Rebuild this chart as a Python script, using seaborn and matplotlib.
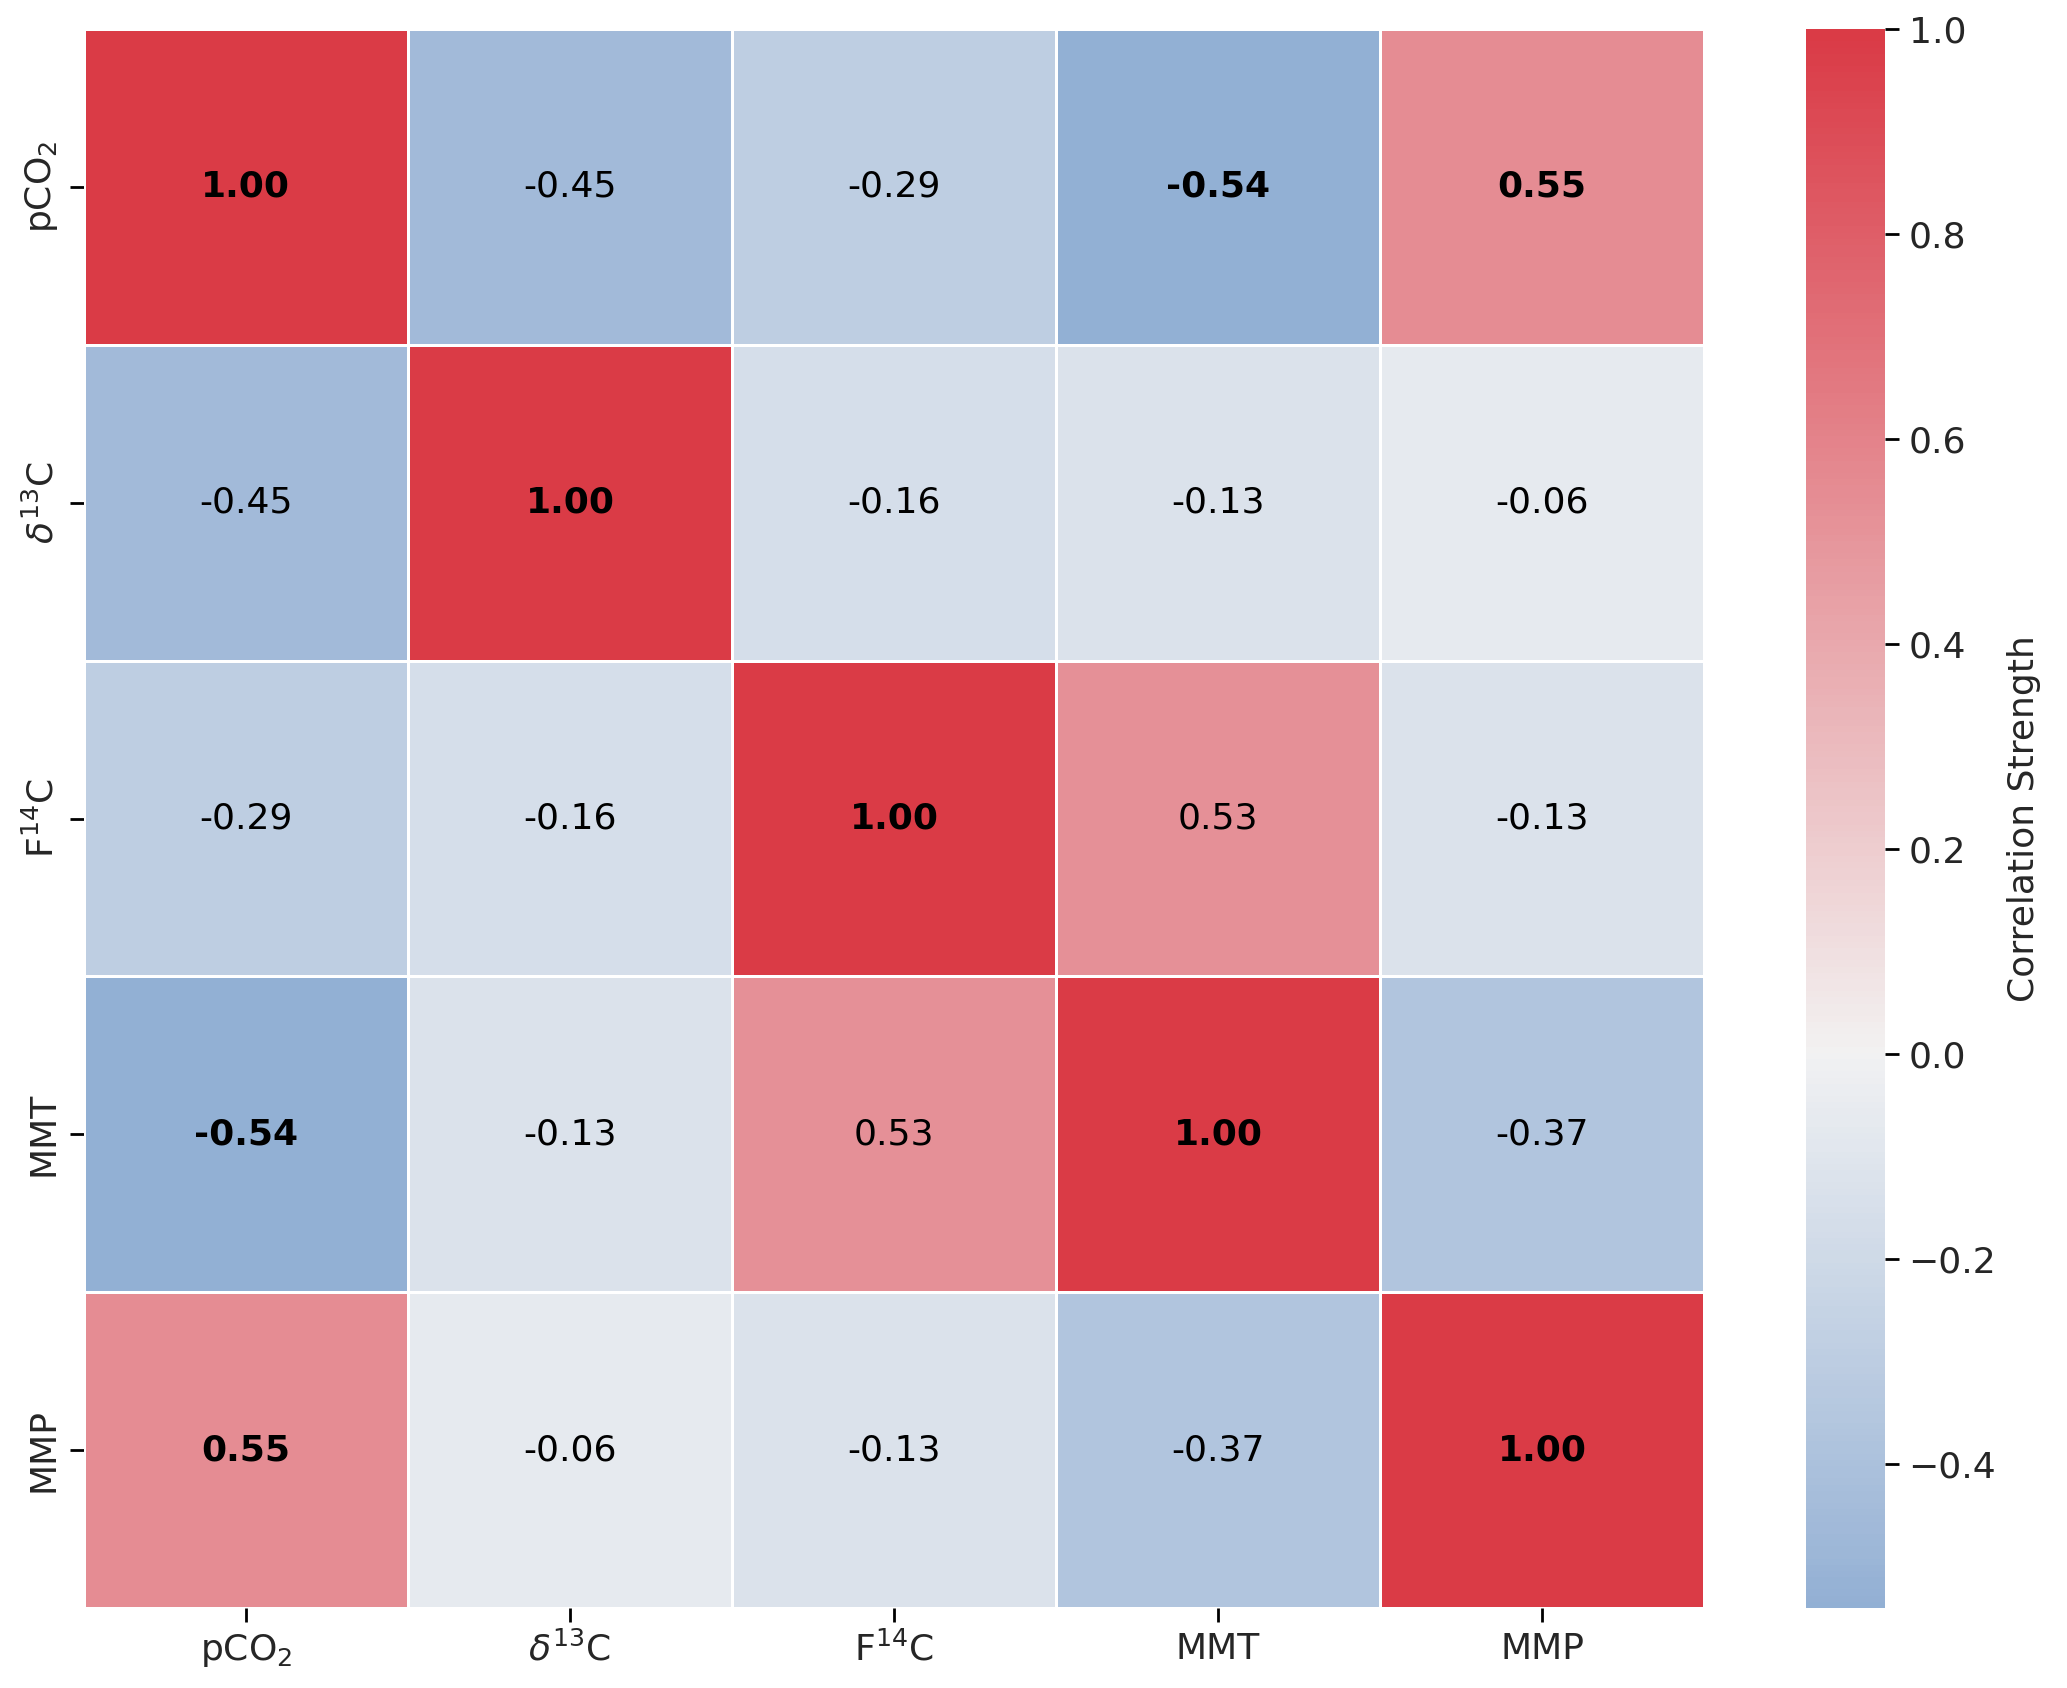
import numpy as np
import pandas as pd
import seaborn as sns
import matplotlib.pyplot as plt

# Variables and correlation values
labels = ['pCO$_2$', r'$\delta^{13}$C', 'F$^{14}$C', 'MMT', 'MMP']
row_pco2 = [1.00, -0.45, -0.29, -0.54, 0.55]
row_d13c = [-0.45, 1.00, -0.16, -0.13, -0.06]
row_f14c = [-0.29, -0.16, 1.00, 0.53, -0.13]
row_mmt = [-0.54, -0.13, 0.53, 1.00, -0.37]
row_mmp = [0.55, -0.06, -0.13, -0.37, 1.00]

corr = pd.DataFrame([row_pco2, row_d13c, row_f14c, row_mmt, row_mmp],
                    index=labels, columns=labels)

sns.set_style('white')
plt.rcParams['font.family'] = ['DejaVu Sans']

fig = plt.figure(figsize=(10.335, 8.44), dpi=200)
ax = fig.add_axes([0.0406, 0.0474, 0.7838, 0.9354])
cax = fig.add_axes([0.8737, 0.0474, 0.0382, 0.9354])

cmap = sns.diverging_palette(250, 10, as_cmap=True)
sns.heatmap(corr, ax=ax, cbar_ax=cax, cmap=cmap, center=0,
            vmin=corr.values.min(), vmax=1.0,
            annot=True, fmt='.2f', annot_kws={'size': 13, 'color': 'black'},
            linewidths=0.5, linecolor='white',
            cbar_kws={'label': 'Correlation Strength'})

# bold the strong correlations
for txt in ax.texts:
    if abs(float(txt.get_text())) > 0.535:
        txt.set_fontweight('bold')

ax.tick_params(axis='both', labelsize=13, length=5, width=1,
               bottom=True, left=True, color='black')
ax.tick_params(axis='x', rotation=0)
ax.tick_params(axis='y', rotation=90)
for t in ax.get_yticklabels():
    t.set_va('center')
cax.tick_params(labelsize=13, length=5, width=1, right=True, color='black')
cax.yaxis.label.set_size(13)

plt.savefig('out.png', dpi=200)
